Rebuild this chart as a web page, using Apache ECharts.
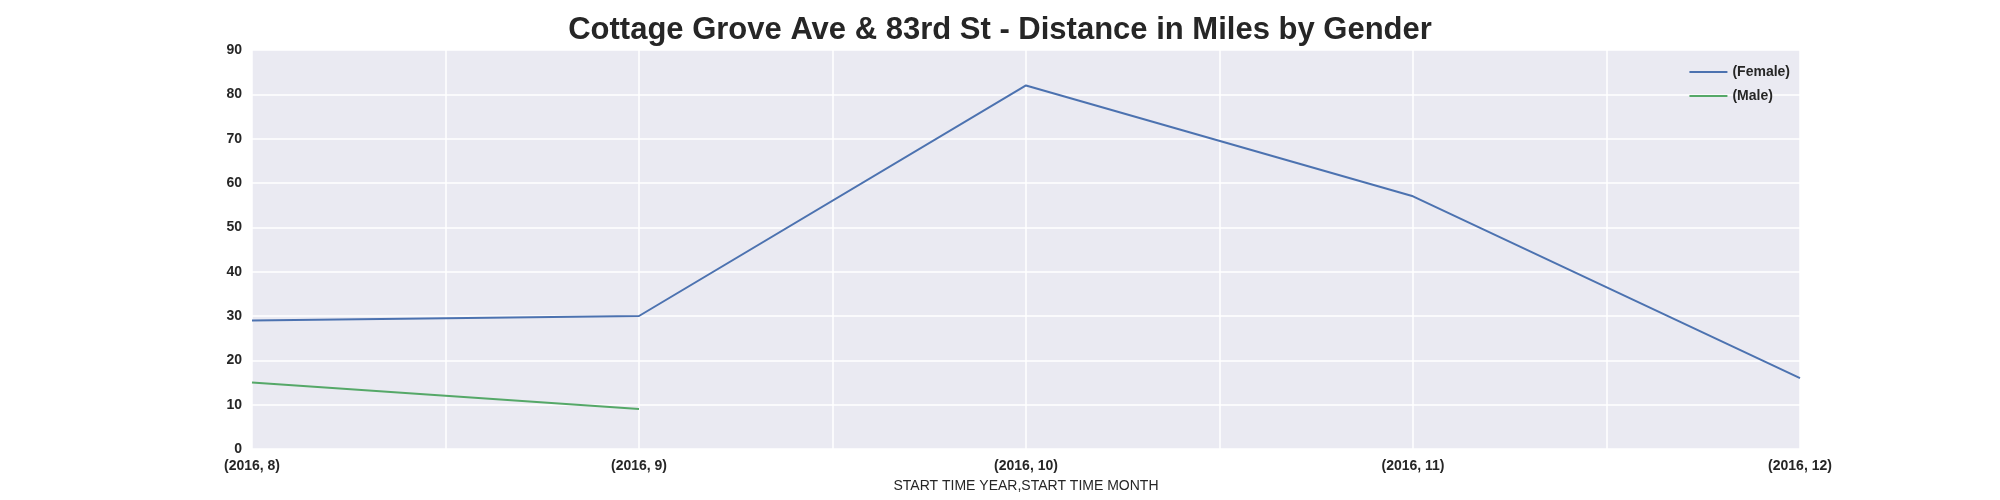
<!DOCTYPE html>
<html><head><meta charset="utf-8">
<script src="https://cdn.jsdelivr.net/npm/echarts@6/dist/echarts.min.js"></script>
<style>html,body{margin:0;padding:0;background:#fff}#chart{width:2000px;height:500px}</style>
</head><body><div id="chart"></div>
<script>
var categories = ['(2016, 8)', '(2016, 9)', '(2016, 10)', '(2016, 11)', '(2016, 12)'];
var femaleValues = [29, 30, 82, 57, 16];
var maleValues = [15, 9];

function toPairs(arr) {
    return arr.map(function (v, i) { return [i, v]; });
}

var myChart = echarts.init(document.getElementById('chart'));
var option = {
    backgroundColor: '#fff',
    animation: false,
    textStyle: { fontFamily: 'Liberation Sans' },
    title: {
        text: 'Cottage Grove Ave & 83rd St - Distance in Miles by Gender',
        left: 'center', top: 10,
        textStyle: { fontSize: 31, fontWeight: 'bold', color: '#262626', fontFamily: 'Liberation Sans' }
    },
    grid: { left: 252, right: 200, top: 50, bottom: 51, backgroundColor: '#EAEAF2', show: true, borderWidth: 0 },
    legend: {
        right: 205, top: 60, orient: 'vertical', itemWidth: 38, itemHeight: 2, itemGap: 10,
        icon: 'rect',
        textStyle: { fontSize: 14, fontWeight: 'bold', color: '#262626' },
        data: ['(Female)', '(Male)']
    },
    xAxis: {
        type: 'value', min: 0, max: 4, interval: 0.5,
        name: 'START TIME YEAR,START TIME MONTH', nameLocation: 'middle', nameGap: 30,
        nameTextStyle: { fontSize: 14, color: '#262626' },
        axisLine: { show: false }, axisTick: { show: false },
        axisLabel: {
            fontSize: 14, fontWeight: 'bold', color: '#262626', margin: 10,
            formatter: function (v) { return Number.isInteger(v) ? categories[v] : ''; }
        },
        splitLine: { lineStyle: { color: '#fff', width: 1.5 } }
    },
    yAxis: {
        type: 'value', min: 0, max: 90, interval: 10,
        axisLine: { show: false }, axisTick: { show: false },
        axisLabel: { fontSize: 14, fontWeight: 'bold', color: '#262626', margin: 10 },
        splitLine: { lineStyle: { color: '#fff', width: 1.5 } }
    },
    series: [
        { name: '(Female)', type: 'line', data: toPairs(femaleValues), showSymbol: false, lineStyle: { color: '#4C72B0', width: 2 }, itemStyle: { color: '#4C72B0' } },
        { name: '(Male)', type: 'line', data: toPairs(maleValues), showSymbol: false, lineStyle: { color: '#55A868', width: 2 }, itemStyle: { color: '#55A868' } }
    ]
};
myChart.setOption(option);
</script></body></html>
